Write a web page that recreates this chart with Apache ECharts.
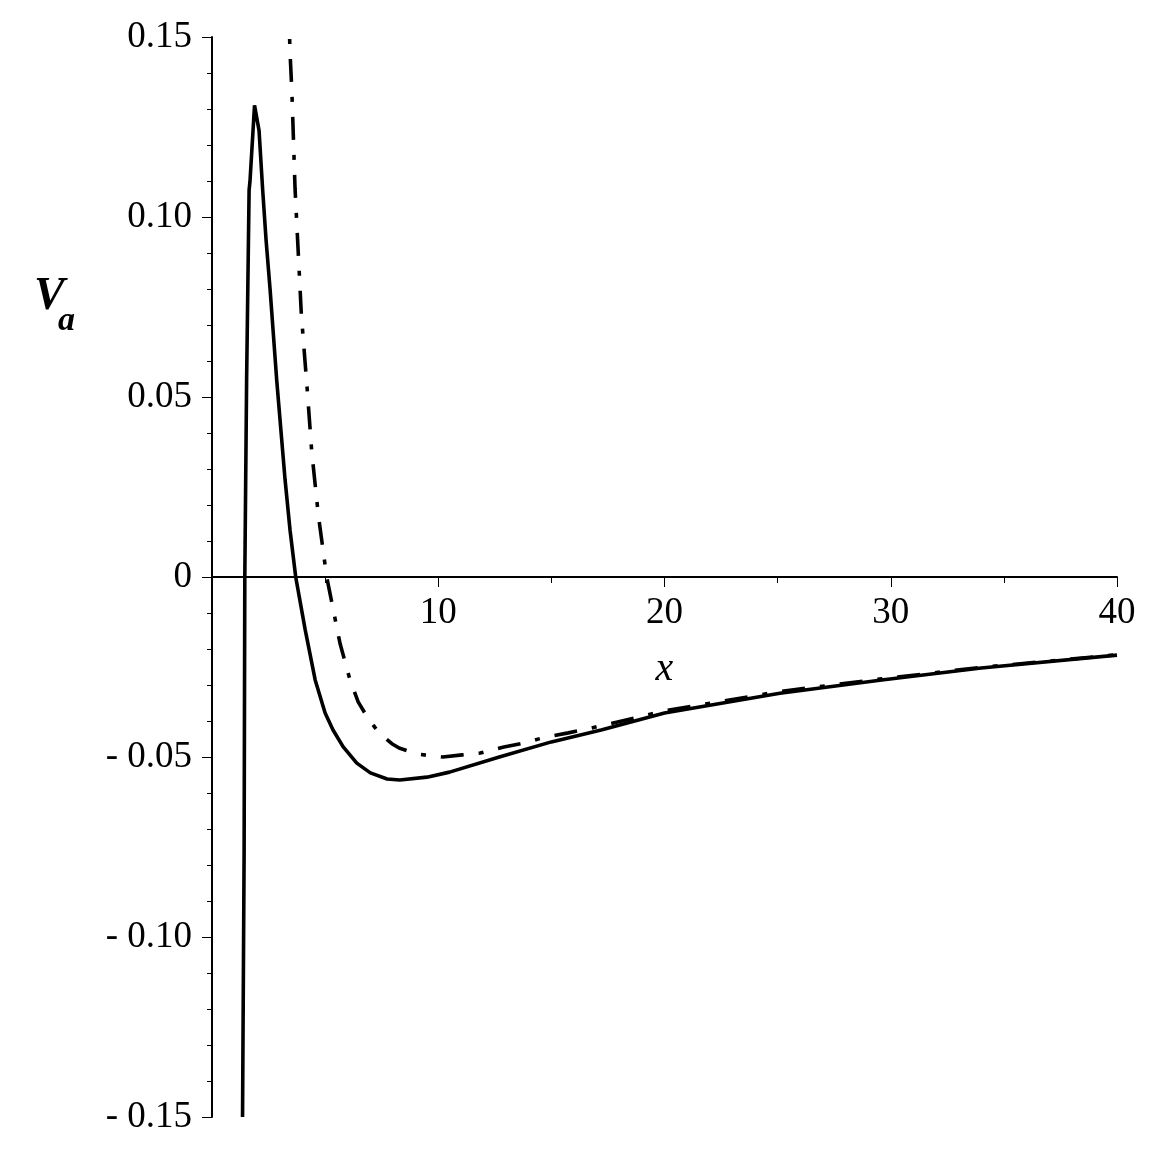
<!DOCTYPE html>
<html>
<head>
<meta charset="utf-8">
<script src="https://cdn.jsdelivr.net/npm/echarts@6/dist/echarts.min.js"></script>
<style>
  html, body { margin: 0; background: #fff; }
  #chart { width: 1156px; height: 1156px; }
</style>
</head>
<body>
<div id="chart"></div>
<script>
// solid curve
const solidX = [1.35, 1.42, 1.45, 1.53, 1.64, 1.68, 1.88, 2.08, 2.24, 2.39, 2.57, 2.86, 3.23, 3.45, 3.70, 4.12, 4.56, 5.0, 5.35, 5.8, 6.4, 7.0, 7.74, 8.3, 9.5, 10.5, 12.7, 15.0, 17.2, 20.0, 25.1, 29.6, 34, 40];
const solidY = [-0.15, -0.0758, 0, 0.0547, 0.1075, 0.11, 0.131, 0.124, 0.1075, 0.0936, 0.0797, 0.0547, 0.027, 0.013, 0, -0.0147, -0.0286, -0.0378, -0.0425, -0.0472, -0.0517, -0.0544, -0.0561, -0.0564, -0.0556, -0.0542, -0.05, -0.0458, -0.0425, -0.0378, -0.0323, -0.0286, -0.0253, -0.0217];

// dash-dot curve
const dashX = [3.38, 3.45, 3.53, 3.67, 3.95, 4.2, 4.41, 4.7, 5.07, 5.66, 6.1, 6.46, 6.86, 7.25, 7.65, 7.95, 8.27, 9.07, 10.2, 11.06, 11.86, 12.9, 13.8, 14.6, 15.75, 16.6, 20.0, 25.1, 29.6, 34, 40];
const dashY = [0.16, 0.1456, 0.135, 0.108, 0.0728, 0.0528, 0.0347, 0.0172, 0, -0.0185, -0.0286, -0.0347, -0.0389, -0.0422, -0.0447, -0.0463, -0.0475, -0.0492, -0.05, -0.0494, -0.0489, -0.0472, -0.0461, -0.0447, -0.0433, -0.0422, -0.0372, -0.0318, -0.0283, -0.0251, -0.0216];

const zip = (xs, ys) => xs.map((x, i) => [x, ys[i]]);
const serif = '"Liberation Serif", "DejaVu Serif", serif';

const chart = echarts.init(document.getElementById('chart'));
chart.setOption({
  animation: false,
  grid: { left: 212, right: 39, top: 37, bottom: 39, containLabel: false, outerBoundsMode: 'none' },
  xAxis: {
    type: 'value',
    min: 0,
    max: 40,
    interval: 10,
    offset: -540,
    name: 'x',
    nameLocation: 'middle',
    nameGap: 72,
    nameTextStyle: { fontFamily: serif, fontStyle: 'italic', fontSize: 40, color: '#000' },
    axisLine: { onZero: false, lineStyle: { color: '#000', width: 2 } },
    axisTick: { length: 10, lineStyle: { color: '#000', width: 1 } },
    minorTick: { show: true, splitNumber: 2, length: 6, lineStyle: { color: '#000', width: 1 } },
    axisLabel: {
      margin: 18,
      fontFamily: serif,
      fontSize: 37,
      color: '#000',
      formatter: v => (v === 0 ? '' : String(v))
    },
    splitLine: { show: false }
  },
  yAxis: {
    type: 'value',
    min: -0.15,
    max: 0.15,
    interval: 0.05,
    axisLine: { onZero: false, lineStyle: { color: '#000', width: 2 } },
    axisTick: { length: 10, lineStyle: { color: '#000', width: 1 } },
    minorTick: { show: true, splitNumber: 5, length: 5, lineStyle: { color: '#000', width: 1 } },
    axisLabel: {
      margin: 20,
      fontFamily: serif,
      fontSize: 37,
      color: '#000',
      formatter: v => {
        if (Math.abs(v) < 1e-9) return '0';
        return v < 0 ? '- ' + Math.abs(v).toFixed(2) : v.toFixed(2);
      }
    },
    splitLine: { show: false }
  },
  graphic: [
    { type: 'text', x: 34, y: 274, style: { text: 'V', font: 'italic bold 46px ' + serif, fill: '#000' } },
    { type: 'text', x: 58, y: 304, style: { text: 'a', font: 'italic bold 34px ' + serif, fill: '#000' } }
  ],
  series: [
    {
      type: 'line',
      data: zip(solidX, solidY),
      showSymbol: false,
      clip: true,
      lineStyle: { color: '#000', width: 3.6 }
    },
    {
      type: 'line',
      data: zip(dashX, dashY),
      showSymbol: false,
      clip: true,
      lineStyle: { color: '#000', width: 3.6, type: [23, 15, 5, 15] }
    }
  ]
});
</script>
</body>
</html>
